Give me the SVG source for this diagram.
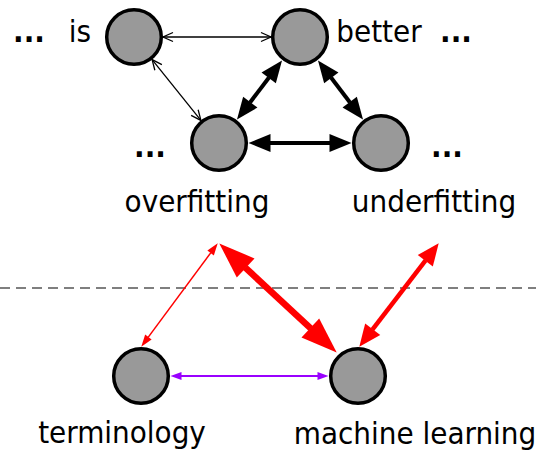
<svg xmlns="http://www.w3.org/2000/svg" width="536" height="453" viewBox="0 0 536 453">
  <style>
    .node { fill: #999999; stroke: #000; stroke-width: 3.5; }
    .lbl { font-family: "DejaVu Sans Condensed", "DejaVu Sans", sans-serif; font-size: 31px; fill: #000; text-anchor: middle; }
    .dots { font-family: "DejaVu Sans Condensed", "DejaVu Sans", sans-serif; font-size: 31px; font-weight: bold; fill: #000; text-anchor: middle; }
    .thin { stroke: #000; stroke-width: 1.3; fill: none; }
    .thick { stroke: #000; stroke-width: 4; fill: none; }
    .red { stroke: #ff0000; fill: none; }
    .violet { stroke: #9900ff; stroke-width: 2; fill: none; }
    .divider { stroke: #555; stroke-width: 1.5; stroke-dasharray: 10 6; }
  </style>
  <defs>
    <!-- open chevron head, tip at the line end -->
    <marker id="open" markerUnits="userSpaceOnUse" viewBox="0 0 12 12" refX="11" refY="6" markerWidth="12" markerHeight="12" orient="auto-start-reverse" overflow="visible">
      <path d="M1,1.5 L11,6 L1,10.5" fill="none" stroke="#000" stroke-width="1.3"/>
    </marker>
    <!-- filled heads: base sits on the line end, tip points outward -->
    <marker id="headBlack" markerUnits="userSpaceOnUse" viewBox="0 0 22 18" refX="0.5" refY="9" markerWidth="22" markerHeight="18" orient="auto-start-reverse" overflow="visible">
      <path d="M0,0 L22,9 L0,18 Z" fill="#000"/>
    </marker>
    <marker id="headRedS" markerUnits="userSpaceOnUse" viewBox="0 0 12 8" refX="0.5" refY="4" markerWidth="12" markerHeight="8" orient="auto-start-reverse" overflow="visible">
      <path d="M0,0 L12,4 L0,8 Z" fill="#ff0000"/>
    </marker>
    <marker id="headRedM" markerUnits="userSpaceOnUse" viewBox="0 0 22 19" refX="0.5" refY="9.5" markerWidth="22" markerHeight="19" orient="auto-start-reverse" overflow="visible">
      <path d="M0,0 L22,9.5 L0,19 Z" fill="#ff0000"/>
    </marker>
    <marker id="headRedL" markerUnits="userSpaceOnUse" viewBox="0 0 36 26" refX="0.5" refY="13" markerWidth="36" markerHeight="26" orient="auto-start-reverse" overflow="visible">
      <path d="M0,0 L36,13 L0,26 Z" fill="#ff0000"/>
    </marker>
    <marker id="headViolet" markerUnits="userSpaceOnUse" viewBox="0 0 11 8" refX="0.5" refY="4" markerWidth="11" markerHeight="8" orient="auto-start-reverse" overflow="visible">
      <path d="M0,0 L11,4 L0,8 Z" fill="#9900ff"/>
    </marker>
  </defs>

  <!-- dashed separator -->
  <line class="divider" x1="0" y1="288" x2="536" y2="288"/>

  <g id="connectors">
    <line class="thin" x1="163" y1="37" x2="271" y2="37" marker-start="url(#open)" marker-end="url(#open)"/>
    <line class="thin" x1="152.1" y1="59.6" x2="200.9" y2="120.4" marker-start="url(#open)" marker-end="url(#open)"/>
    <line class="thick" x1="269" y1="77.5" x2="250" y2="102.5" marker-start="url(#headBlack)" marker-end="url(#headBlack)"/>
    <line class="thick" x1="331" y1="77.5" x2="350" y2="102.5" marker-start="url(#headBlack)" marker-end="url(#headBlack)"/>
    <line class="thick" x1="270" y1="143" x2="330" y2="143" marker-start="url(#headBlack)" marker-end="url(#headBlack)"/>
    <line class="red" stroke-width="1.5" x1="210.9" y1="252.6" x2="148.1" y2="337.4" marker-start="url(#headRedS)" marker-end="url(#headRedS)"/>
    <line class="red" stroke-width="6.5" x1="245.3" y1="267.6" x2="310.7" y2="328.4" marker-start="url(#headRedL)" marker-end="url(#headRedL)"/>
    <line class="red" stroke-width="4.5" x1="425.6" y1="260.4" x2="372.4" y2="329.6" marker-start="url(#headRedM)" marker-end="url(#headRedM)"/>
    <line class="violet" x1="181" y1="376" x2="318" y2="376" marker-start="url(#headViolet)" marker-end="url(#headViolet)"/>
  </g>

  <g id="node-is">
    <circle class="node" cx="134" cy="37" r="27.3"/>
    <text class="lbl" x="80" y="42">is</text>
  </g>
  <g id="node-better">
    <circle class="node" cx="300" cy="37" r="27.3"/>
    <text class="lbl" x="379" y="42">better</text>
  </g>
  <g id="node-overfitting">
    <circle class="node" cx="219" cy="143" r="27.3"/>
    <text class="lbl" x="197" y="212">overfitting</text>
  </g>
  <g id="node-underfitting">
    <circle class="node" cx="381" cy="143" r="27.3"/>
    <text class="lbl" x="434" y="212">underfitting</text>
  </g>
  <g id="node-terminology">
    <circle class="node" cx="141" cy="376" r="27.3"/>
    <text class="lbl" x="122" y="443">terminology</text>
  </g>
  <g id="node-machine-learning">
    <circle class="node" cx="358" cy="376" r="27.3"/>
    <text class="lbl" x="415" y="444">machine learning</text>
  </g>

  <g id="ellipses">
    <text class="dots" x="29" y="42">...</text>
    <text class="dots" x="456" y="42">...</text>
    <text class="dots" x="150" y="157">...</text>
    <text class="dots" x="447" y="157">...</text>
  </g>
</svg>
